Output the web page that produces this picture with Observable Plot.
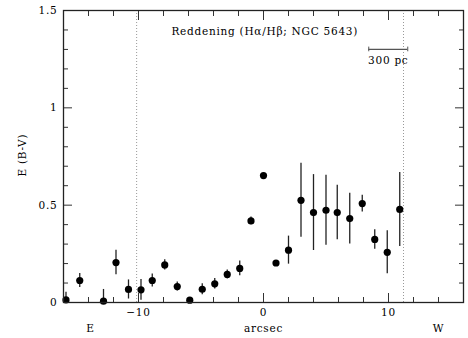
<!DOCTYPE html>
<html>
<head>
<meta charset="utf-8">
<script src="https://cdn.jsdelivr.net/npm/d3@7"></script>
<script src="https://cdn.jsdelivr.net/npm/@observablehq/plot@0.6"></script>
<style>
  html, body { margin: 0; padding: 0; background: #fff; }
  svg { display: block; }
  svg text { font-family: "DejaVu Serif", serif; letter-spacing: 0.75px; }
</style>
</head>
<body>
<div id="chart"></div>
<script>
// Data
const offsets = [-15.8, -14.7, -12.8, -11.8, -10.8, -9.8, -8.9, -7.9, -6.9, -5.9, -4.9, -3.9, -2.9, -1.9, -1.0, 0, 1.0, 2.0, 3.0, 4.0, 5.0, 5.9, 6.9, 7.9, 8.9, 9.9, 10.9];
const reddening = [0.013, 0.113, 0.007, 0.205, 0.067, 0.065, 0.113, 0.193, 0.082, 0.012, 0.068, 0.096, 0.144, 0.175, 0.419, 0.652, 0.203, 0.269, 0.525, 0.462, 0.474, 0.462, 0.431, 0.508, 0.324, 0.258, 0.478];
const errors = [0.04, 0.036, 0.06, 0.063, 0.049, 0.053, 0.033, 0.026, 0.023, 0.008, 0.028, 0.027, 0.023, 0.038, 0.02, 0.01, 0.01, 0.072, 0.19, 0.195, 0.18, 0.14, 0.13, 0.043, 0.05, 0.11, 0.19];
const dottedLines = [-10.15, 11.2];
const xMajor = [-10, 0, 10];
const xMinor = [-14, -12, -8, -6, -4, -2, 2, 4, 6, 8, 12, 14];
const yMajor = [0, 0.5, 1, 1.5];
const yMinor = [0.1, 0.2, 0.3, 0.4, 0.6, 0.7, 0.8, 0.9, 1.1, 1.2, 1.3, 1.4];
const titleText = "Reddening (Hα/Hβ; NGC 5643)";
const scaleBar = {x1: 8.42, x2: 11.54, y: 1.3, label: "300 pc"};
const dirLabels = [{x: -13.85, t: "E"}, {x: 0, t: "arcsec"}, {x: 14, t: "W"}];

const data = offsets.map((x, i) => ({x, y: reddening[i], lo: Math.max(0, reddening[i] - errors[i]), hi: reddening[i] + errors[i]}));

const blank = () => "";

const chart = Plot.plot({
  width: 468,
  height: 338,
  marginLeft: 63,
  marginRight: 5,
  marginTop: 10,
  marginBottom: 36,
  style: {fontFamily: "'DejaVu Serif', serif", fontSize: "10.5px", background: "#fff", color: "#000"},
  x: {domain: [-16, 16]},
  y: {domain: [0, 1.5]},
  marks: [
    Plot.ruleX(dottedLines, {stroke: "#999", strokeWidth: 1, strokeDasharray: "1,2"}),
    // ticks on all sides, inward
    Plot.axisX({anchor: "bottom", ticks: xMinor, tickSize: -5, tickFormat: blank, stroke: "#333"}),
    Plot.axisX({anchor: "bottom", ticks: xMajor, tickSize: -9, tickFormat: blank, stroke: "#333"}),
    Plot.axisX({anchor: "top", ticks: xMinor, tickSize: -5, tickFormat: blank, stroke: "#333"}),
    Plot.axisX({anchor: "top", ticks: xMajor, tickSize: -9, tickFormat: blank, stroke: "#333"}),
    Plot.axisY({anchor: "left", ticks: yMinor, tickSize: -5, tickFormat: blank, stroke: "#333"}),
    Plot.axisY({anchor: "left", ticks: yMajor, tickSize: -9, tickFormat: blank, stroke: "#333"}),
    Plot.axisY({anchor: "right", ticks: yMinor, tickSize: -5, tickFormat: blank, stroke: "#333"}),
    Plot.axisY({anchor: "right", ticks: yMajor, tickSize: -9, tickFormat: blank, stroke: "#333"}),
    // tick labels
    Plot.axisX({anchor: "bottom", ticks: xMajor, tickSize: 0, tickPadding: 6, tickFormat: d => d < 0 ? "−" + Math.abs(d) : String(d), fontSize: 10.5, label: null}),
    Plot.axisY({anchor: "left", ticks: yMajor, tickSize: 0, tickPadding: 6, tickFormat: d => String(d), fontSize: 10.5, label: null}),
    Plot.text(dirLabels, {x: "x", text: "t", frameAnchor: "bottom", dy: 29, fontSize: 10.5}),
    Plot.text([titleText], {x: 0.1, y: 1.392, text: d => d, fontSize: 10.5}),
    Plot.text(["E (B-V)"], {x: -16, y: 0.757, dx: -41, text: d => d, rotate: -90, fontSize: 10.5}),
    // scale bar
    Plot.ruleY([scaleBar], {x1: "x1", x2: "x2", y: "y", stroke: "#555", strokeWidth: 1.3}),
    Plot.ruleX([scaleBar.x1, scaleBar.x2], {y1: scaleBar.y - 0.012, y2: scaleBar.y + 0.012, stroke: "#555"}),
    Plot.text([scaleBar], {x: d => (d.x1 + d.x2) / 2, y: d => d.y, dy: 11, text: "label", fontSize: 10.5}),
    // error bars & points
    Plot.ruleX(data, {x: "x", y1: "lo", y2: "hi", stroke: "#222", strokeWidth: 1.3}),
    Plot.dot(data, {x: "x", y: "y", r: 3.6, fill: "#000", stroke: "none"}),
    Plot.frame({stroke: "#222", strokeWidth: 1.3})
  ]
});
document.getElementById("chart").appendChild(chart);
</script>
</body>
</html>
